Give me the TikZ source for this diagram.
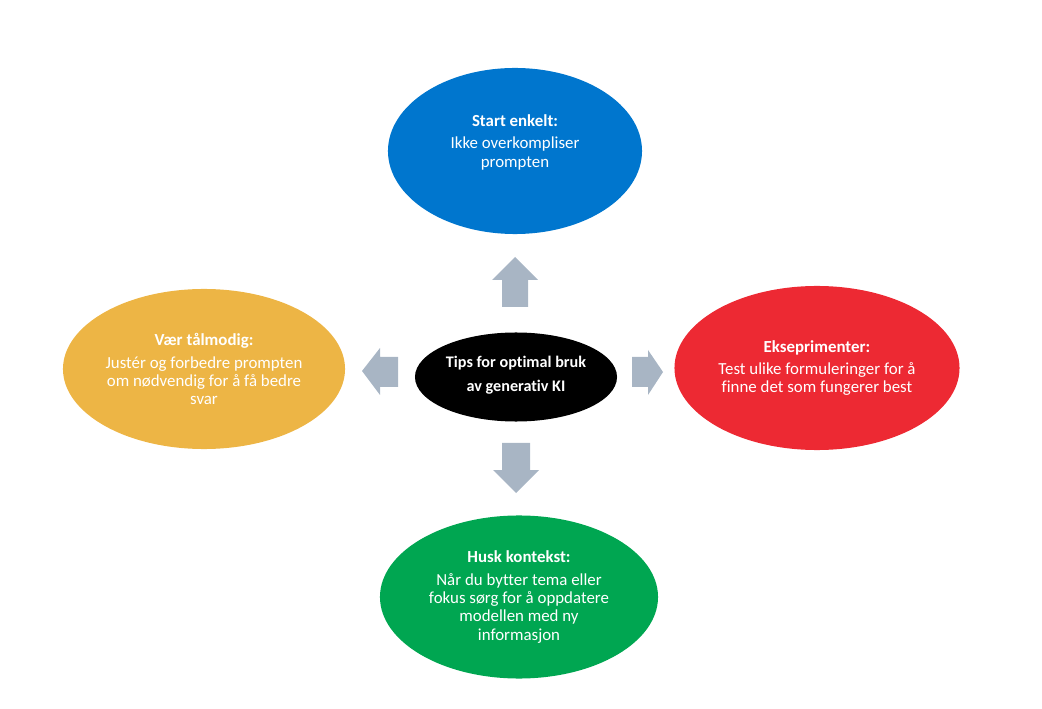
\documentclass[tikz,border=0pt]{standalone}
\usepackage{fontspec}
\setmainfont{Carlito}[Ligatures=NoCommon]
\usetikzlibrary{shapes.geometric}
\definecolor{kiblue}{RGB}{0,118,206}
\definecolor{kired}{RGB}{237,41,51}
\definecolor{kigold}{RGB}{237,181,69}
\definecolor{kigreen}{RGB}{0,166,81}
\definecolor{kigray}{RGB}{168,181,196}
\tikzset{
  tip/.style={ellipse,fill=#1,inner sep=0pt},
  txt/.style={text=white,align=center,font=\fontsize{12}{13}\selectfont},
  pil/.style={fill=kigray}
}
\begin{document}
\begin{tikzpicture}[x=0.025cm,y=-0.025cm]
\useasboundingbox (0,0) rectangle (1042,709);
\node[tip=kiblue,minimum width=6.35cm,minimum height=4.15cm] (start) at (515,151) {};
\node[tip=kigold,minimum width=7.05cm,minimum height=4cm] (talmodig) at (204,369) {};
\node[tip=kired,minimum width=7.125cm,minimum height=4.1cm] (eksp) at (817,368) {};
\node[tip=kigreen,minimum width=6.95cm,minimum height=4.075cm] (husk) at (519,597) {};
\node[tip=black,minimum width=5.05cm,minimum height=2.225cm] (tips) at (516,377) {};
%text
\node[txt] (starttxt) at ([yshift=0.22cm]start.center) {\textbf{Start enkelt:}\\[3pt]Ikke overkompliser\\prompten};
\node[txt] (talmodigtxt) at (talmodig.center) {\textbf{Vær tålmodig:}\\[3pt]Justér og forbedre prompten\\om nødvendig for å få bedre\\svar};
\node[txt] (eksptxt) at (eksp.center) {\textbf{Ekseprimenter:}\\[3pt]Test ulike formuleringer for å\\finne det som fungerer best};
\node[txt] (husktxt) at (husk.center) {\textbf{Husk kontekst:}\\[3pt]Når du bytter tema eller\\fokus sørg for å oppdatere\\modellen med ny\\informasjon};
\node[txt,font=\bfseries\fontsize{11.5}{17}\selectfont] (tipstxt) at ([yshift=0.05cm]tips.center) {Tips for optimal bruk\\av generativ KI};
%arrows
\coordinate (opp) at (515,257);
\coordinate (ned) at (516,493);
\coordinate (venstre) at (362,371);
\coordinate (hoyre) at (663,372);
\fill[pil] (opp)--++(23,23)--++(-10,0)--++(0,27)--++(-26,0)--++(0,-27)--++(-10,0)--cycle;
\fill[pil] (ned)--++(23,-23)--++(-9,0)--++(0,-27)--++(-28,0)--++(0,27)--++(-9,0)--cycle;
\fill[pil] (venstre)--++(18,-23)--++(0,9)--++(18,0)--++(0,30)--++(-18,0)--++(0,8)--cycle;
\fill[pil] (hoyre)--++(-15,-22)--++(0,7)--++(-16,0)--++(0,30)--++(16,0)--++(0,8)--cycle;
\end{tikzpicture}
\end{document}
